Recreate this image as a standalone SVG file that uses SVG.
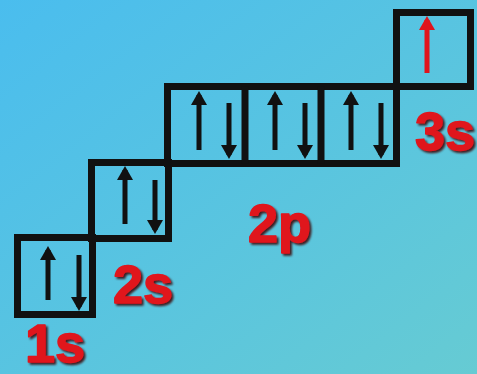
<svg xmlns="http://www.w3.org/2000/svg" width="477" height="374" viewBox="0 0 477 374">
  <defs>
    <linearGradient id="bg" x1="0" y1="0" x2="1" y2="1">
      <stop offset="0" stop-color="#4abdee"/>
      <stop offset="1" stop-color="#66cbd3"/>
    </linearGradient>
    <marker id="head" viewBox="0 0 14 16" refX="10" refY="8" markerWidth="14" markerHeight="16" markerUnits="userSpaceOnUse" orient="auto">
      <path d="M0,0 L14,8 L0,16 z" fill="#111"/>
    </marker>
    <marker id="headRed" viewBox="0 0 14 16" refX="10" refY="8" markerWidth="14" markerHeight="16" markerUnits="userSpaceOnUse" orient="auto">
      <path d="M0,0 L14,8 L0,16 z" fill="#e0141c"/>
    </marker>
    <filter id="shadow" x="-20%" y="-20%" width="140%" height="140%">
      <feDropShadow dx="2" dy="2" stdDeviation="0.8" flood-color="#3a0000" flood-opacity="0.85"/>
    </filter>
  </defs>
  <style>
    .box { fill: none; stroke: #111; stroke-width: 7; stroke-linejoin: miter; }
    .e { stroke: #111; stroke-width: 5; marker-end: url(#head); }
    .er { stroke: #e0141c; stroke-width: 5; marker-end: url(#headRed); }
    .lbl { font-family: "Liberation Sans", Arial, sans-serif; font-weight: bold; font-size: 54px; fill: #e0141c; stroke: #e0141c; stroke-width: 1.5; stroke-linejoin: round; filter: url(#shadow); }
  </style>
  <rect width="477" height="374" fill="url(#bg)"/>
  <g id="connectors"/>
  <g id="orbital-1s">
    <rect class="box" x="17.5" y="237.5" width="75" height="77"/>
    <line class="e" x1="48" y1="300" x2="48" y2="250"/>
    <line class="e" x1="79" y1="255" x2="79" y2="307"/>
    <text class="lbl" x="25" y="362">1s</text>
  </g>
  <g id="orbital-2s">
    <rect class="box" x="91.5" y="162.5" width="77" height="76"/>
    <line class="e" x1="125" y1="224" x2="125" y2="170"/>
    <line class="e" x1="155" y1="180" x2="155" y2="230"/>
    <text class="lbl" x="113" y="303">2s</text>
  </g>
  <g id="orbital-2p">
    <rect class="box" x="167.5" y="86.5" width="229" height="77"/>
    <line class="box" x1="245" y1="86.5" x2="245" y2="163.5"/>
    <line class="box" x1="321" y1="86.5" x2="321" y2="163.5"/>
    <line class="e" x1="199" y1="150" x2="199" y2="95"/>
    <line class="e" x1="229" y1="103" x2="229" y2="155"/>
    <line class="e" x1="275" y1="150" x2="275" y2="95"/>
    <line class="e" x1="305" y1="103" x2="305" y2="155"/>
    <line class="e" x1="351" y1="150" x2="351" y2="95"/>
    <line class="e" x1="381" y1="103" x2="381" y2="155"/>
    <text class="lbl" x="248" y="242">2p</text>
  </g>
  <g id="orbital-3s">
    <rect class="box" x="396.5" y="12.5" width="74" height="74"/>
    <line class="er" x1="427" y1="73" x2="427" y2="20"/>
    <text class="lbl" x="415" y="150">3s</text>
  </g>
</svg>
